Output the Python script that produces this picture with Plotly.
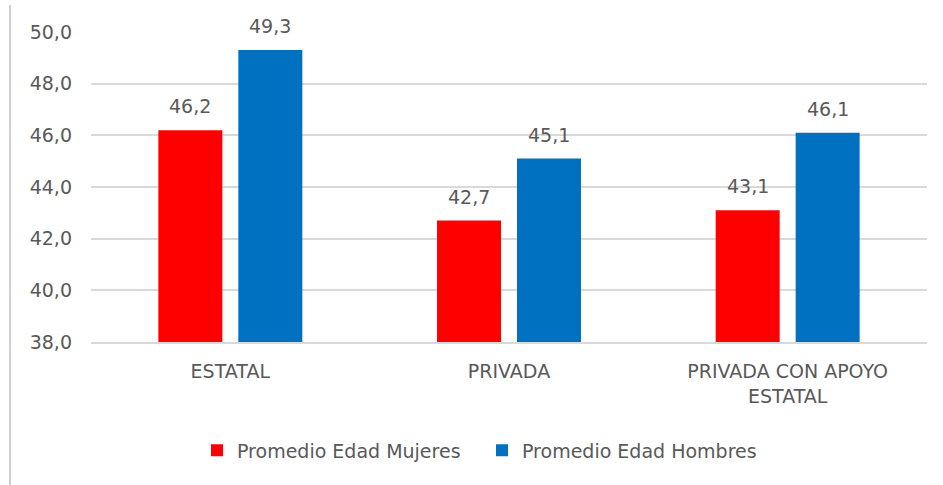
import plotly.graph_objects as go

# Average age by school type, split by sex
categories = ["ESTATAL", "PRIVADA", "PRIVADA CON APOYO<br>ESTATAL"]
mujeres = [46.2, 42.7, 43.1]
hombres = [49.3, 45.1, 46.1]
y_ticks = [38, 40, 42, 44, 46, 48, 50]

RED = "#FF0000"
BLUE = "#0070C0"
TEXT = "#595959"
GRID = "#D9D9D9"
FONT = "DejaVu Sans"
FS = 19

W, H = 943, 485
ML, MR, MT, MB = 91, 16, 32, 143
BARGAP = 0.426
GROUPGAP = 0.2


def fmt(v):
    return f"{v:.1f}".replace(".", ",")


fig = go.Figure()
fig.add_trace(go.Bar(name="Promedio Edad Mujeres", x=categories, y=mujeres,
                     marker=dict(color=RED, line=dict(width=0))))
fig.add_trace(go.Bar(name="Promedio Edad Hombres", x=categories, y=hombres,
                     marker=dict(color=BLUE, line=dict(width=0))))

# value labels above each bar, centred on each bar's slot in the group
slot = (1 - BARGAP) / 2
for i in range(len(categories)):
    for vals, shift in ((mujeres, -slot / 2), (hombres, slot / 2)):
        fig.add_annotation(x=i + shift, y=vals[i], xref="x", yref="y",
                           text=fmt(vals[i]), showarrow=False,
                           yanchor="bottom", yshift=11,
                           font=dict(family=FONT, size=FS, color=TEXT))

# outer frame edge on the left
pw = W - ML - MR
ph = H - MT - MB
fig.add_shape(type="line", xref="paper", yref="paper",
              x0=(10 - ML) / pw, x1=(10 - ML) / pw,
              y0=-(MB + 5) / ph, y1=1 + (MT - 5) / ph,
              line=dict(color="#D0D0D0", width=2))

fig.update_layout(
    width=W, height=H,
    margin=dict(l=ML, r=MR, t=MT, b=MB, pad=0),
    paper_bgcolor="white", plot_bgcolor="white",
    barmode="group", bargap=BARGAP, bargroupgap=GROUPGAP,
    separators=",.",
    font=dict(family=FONT, size=FS, color=TEXT),
    showlegend=True,
    legend=dict(orientation="h", x=(197 - ML) / pw, xanchor="left", y=-0.35,
                yanchor="middle", font=dict(family=FONT, size=FS, color=TEXT),
                itemwidth=30, entrywidth=240, entrywidthmode="pixels",
                traceorder="normal"),
)
fig.update_xaxes(type="category", showline=True, linecolor=GRID, linewidth=2,
                 showgrid=False, ticks="", ticklabelstandoff=11,
                 tickfont=dict(family=FONT, size=FS, color=TEXT),
                 range=[-0.5, 2.5])
fig.update_yaxes(range=[38, 50], tickvals=y_ticks, tickformat=".1f",
                 showgrid=True, gridcolor=GRID, gridwidth=1.5,
                 zeroline=False, showline=False, ticks="",
                 ticklabelstandoff=18,
                 tickfont=dict(family=FONT, size=FS, color=TEXT))

fig.write_html("out.html")
